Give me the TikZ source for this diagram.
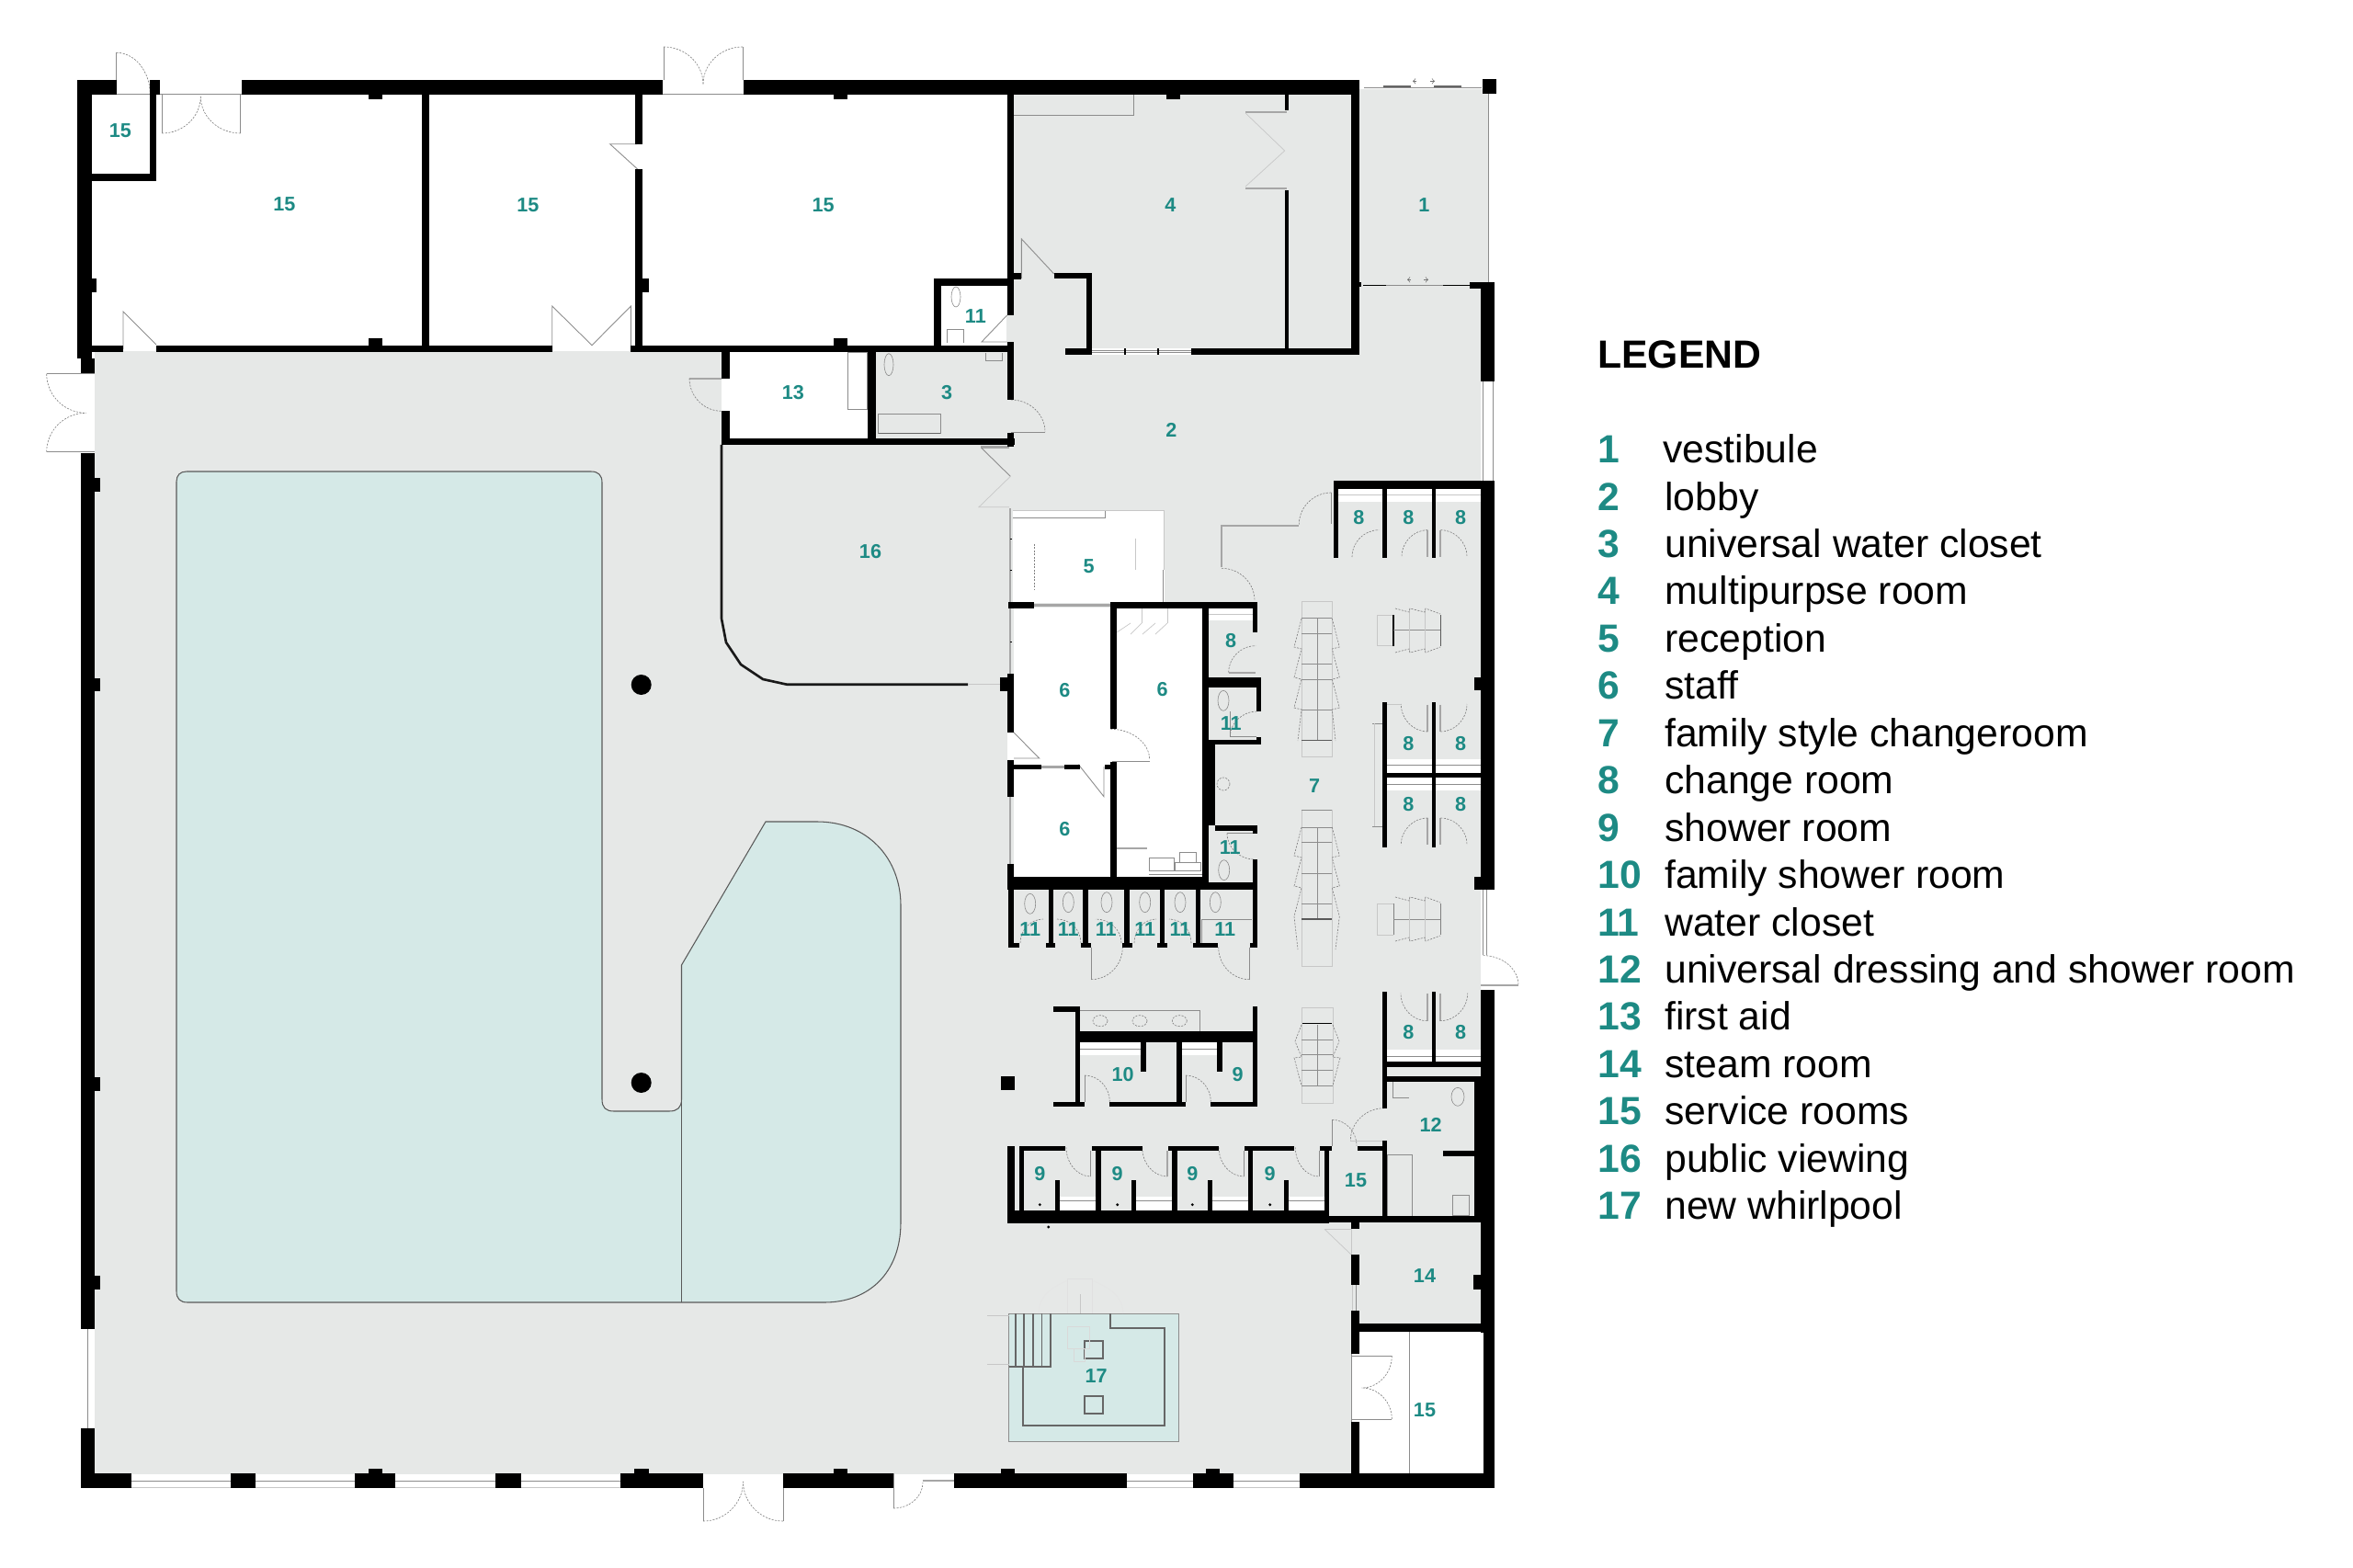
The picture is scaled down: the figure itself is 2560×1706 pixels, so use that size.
\documentclass[tikz,border=0pt]{standalone}
\usepackage{fontspec}
\setmainfont{Liberation Sans}
\usetikzlibrary{calc}
\definecolor{floorgray}{HTML}{E6E8E7}
\definecolor{poolteal}{HTML}{D5E9E7}
\definecolor{labelteal}{HTML}{1D8A84}
\tikzset{
    wall/.style={fill=black},
    floor/.style={fill=floorgray},
    room/.style={fill=white},
    leaf/.style={draw=black!45, line width=0.5pt},
    thickleaf/.style={draw=black!35, line width=1.2pt},
    swing/.style={draw=black!50, line width=0.35pt, dash pattern=on 1.2pt off 0.8pt},
    faint/.style={draw=black!22, line width=0.4pt},
    fixture/.style={draw=black!45, line width=0.35pt},
    roomlabel/.style={text=labelteal, font=\fontsize{12.3}{14}\selectfont\bfseries, inner sep=0pt},
    legendnum/.style={anchor=base west, text=labelteal, font=\fontsize{24.3}{28}\selectfont\bfseries, inner sep=0pt},
    legendtext/.style={anchor=base west, text=black, font=\fontsize{24.3}{28}\selectfont, inner sep=0pt},
    legendtitle/.style={anchor=base west, text=black, font=\fontsize{24.3}{28}\selectfont\bfseries, inner sep=0pt}
}
\newcommand{\doorarc}[3]{\draw[swing] (#1) .. controls ($(#1)!0.55!(#2)$) and ($(#3)!0.55!(#2)$) .. (#3);}

\begin{document}
\begin{tikzpicture}[x=0.02cm, y=-0.02cm]
    \useasboundingbox (0,0) rectangle (2560,1706);

    \fill[floor] (103.3,382) rectangle (1475,1604);
    \fill[floor] (1095,102) rectangle (1611,1331);
    \fill[floor] (1479,97) rectangle (1619,312);
    \fill[floor] (1470,1330) rectangle (1611,1445);

    \fill[room] (793.6,382) rectangle (944.3,477);
    \fill[room] (785,411.7) rectangle (794,447.3);
    \fill[room] (1101.7,555) rectangle (1266.7,656);
    \fill[room] (1102.7,661) rectangle (1308,955);
    \fill[room] (1096,796.7) rectangle (1103,826.7);
    \fill[room] (1479,1449) rectangle (1615,1604);
    \fill[room] (1470,1473.3) rectangle (1480,1546.7);

    \filldraw[fill=poolteal, draw=black!65, line width=0.6pt] (192,524) .. controls (192,517) and (196,513) .. (203,513) -- (643,513) .. controls (651,513) and (655,517) .. (655,525) -- (655,1196) .. controls (655,1205) and (659,1209) .. (668,1209) -- (728,1209) .. controls (737,1209) and (741.5,1205) .. (741.5,1196) -- (741.5,1050) -- (833,894) -- (889,894) .. controls (945,894) and (980,935) .. (980,985) -- (980,1330) .. controls (980,1385) and (945,1417) .. (897,1417) -- (204,1417) .. controls (196,1417) and (192,1413) .. (192,1405) -- cycle;
    \draw[draw=black!65, line width=0.5pt] (741.5,1196) -- (741.5,1417);

    \fill (697.7,745) circle (11);
    \fill (697.7,1178) circle (11);
    \fill (1088.5,1170.6) rectangle (1103.5,1186);

    \draw[black!90, line width=1.5pt] (785,484) -- (785,673) -- (790,699) -- (806,723) -- (830,739) -- (856,744.7) -- (1053,744.7);
    \draw[faint] (1053,744.7) -- (1088,744.7);

    \filldraw[fill=poolteal, draw=black!45, line width=0.4pt] (1097.6,1429.3) rectangle (1282.7,1568);
    \draw[black!60, line width=1.2pt] (1113,1486.7) -- (1113,1551) -- (1267,1551) -- (1267,1445.3) -- (1208.3,1445.3) -- (1208.3,1429.3);
    \draw[black!60, line width=1.1pt] (1097.6,1486.7) -- (1142.7,1486.7) -- (1142.7,1429.3);
    \draw[black!60, line width=0.8pt] (1105,1429.3) -- (1105,1486.7);
    \draw[black!60, line width=0.8pt] (1114,1429.3) -- (1114,1486.7);
    \draw[black!60, line width=0.8pt] (1124,1429.3) -- (1124,1486.7);
    \draw[black!60, line width=0.8pt] (1133.5,1429.3) -- (1133.5,1486.7);
    \draw[black!60, line width=1.1pt] (1180.3,1459) rectangle (1199.7,1477.7);
    \draw[black!60, line width=1.1pt] (1180.3,1519.3) rectangle (1199.7,1538);
    \draw[draw=black!12, line width=0.35pt] (1161.7,1429) -- (1161.7,1391.7) -- (1188.3,1391.7) -- (1188.3,1429);
    \draw[draw=black!15, line width=0.35pt] (1161.7,1443) rectangle (1185,1467);
    \draw[draw=black!15, line width=0.35pt] (1168,1467) rectangle (1180,1481);
    \draw[faint] (1074,1431) -- (1097.6,1431);
    \draw[faint] (1074,1484.7) -- (1097.6,1484.7);
    \draw[draw=black!10, line width=0.3pt] (1130,1429) .. controls (1130,1410) and (1145,1400) .. (1160,1394);
    \draw[draw=black!10, line width=0.3pt] (1222,1429) .. controls (1222,1410) and (1205,1400) .. (1190,1394);
    \draw[faint] (1175,1429) -- (1175,1408);

    \fill[room] (1456,531.7) rectangle (1504.3,546);
    \fill[room] (1509,531.7) rectangle (1557.7,546);
    \fill[room] (1562.3,531.7) rectangle (1611,546);
    \draw[faint] (1456,538) -- (1611,538);
    \fill[room] (1315,662) rectangle (1362.7,675);
    \draw[faint] (1315,668) -- (1362.7,668);
    \fill[room] (1509.3,826) rectangle (1611,840.7);
    \fill[room] (1509.3,846) rectangle (1611,860);
    \draw[fixture] (1509.3,832) -- (1611,832);
    \draw[fixture] (1509.3,853) -- (1611,853);
    \fill[room] (1509.3,1141.7) rectangle (1611,1155);
    \draw[fixture] (1509.3,1149) -- (1611,1149);
    \fill[room] (1153.3,1301.7) rectangle (1192.3,1316.7);
    \fill[room] (1236.3,1301.7) rectangle (1275.3,1316.7);
    \fill[room] (1319,1301.7) rectangle (1358,1316.7);
    \fill[room] (1402,1301.7) rectangle (1440.7,1316.7);
    \draw[fixture] (1153.3,1306) -- (1192.3,1306);
    \draw[fixture] (1236.3,1306) -- (1275.3,1306);
    \draw[fixture] (1319,1306) -- (1358,1306);
    \draw[fixture] (1402,1306) -- (1440.7,1306);
    \fill[room] (1175.3,1134) rectangle (1241,1148.3);
    \fill[room] (1285.7,1134) rectangle (1324,1148.3);
    \draw[fixture] (1175.3,1141) -- (1241,1141);
    \draw[fixture] (1285.7,1141) -- (1324,1141);

    \fill[room] (1188,379.3) rectangle (1295.7,385.7);
    \draw[fixture] (1188,381.3) -- (1295.7,381.3);
    \draw[fixture] (1188,383.7) -- (1295.7,383.7);
    \draw[fixture] (1102.7,125) -- (1233.3,125) -- (1233.3,102.7);
    \draw[fixture] (1509.3,1323) -- (1509.3,1256.7) -- (1536.7,1256.7) -- (1536.7,1323);
    \draw[fixture] (1533.3,1449) -- (1533.3,1603);
    \draw[fixture] (1175,1099.3) -- (1305.3,1099.3) -- (1305.3,1121.7);
    \draw[swing] (1197,1110.7) ellipse (8 and 6);
    \draw[swing] (1240,1110.7) ellipse (8 and 6);
    \draw[swing] (1283.3,1110.7) ellipse (8 and 6);

    \draw[fixture] (922,383) rectangle (943.7,445);
    \draw[fixture] (955.7,471.7) -- (955.7,450.7) -- (1022.9,450.7) -- (1022.9,471.7);
    \draw[black!60, line width=0.8pt] (955.7,471.7) -- (1022.9,471.7);
    \draw[fixture] (967,396.7) ellipse (5 and 12);
    \draw[fixture] (1040,323) ellipse (5 and 11);
    \draw[fixture] (1030,373) -- (1030,358) -- (1048,358) -- (1048,373);
    \draw[fixture] (1072,384) -- (1072,392) -- (1090,392) -- (1090,384);
    \draw[fixture] (1586,1193.3) ellipse (7 and 10);
    \draw[fixture] (1515,1177) -- (1515,1194) -- (1533,1194);
    \draw[fixture] (1580,1300) rectangle (1598,1322);
    \draw[fixture] (1331,762.3) ellipse (6 and 11);
    \draw[fixture] (1331.7,946.7) ellipse (6 and 11);
    \draw[fixture] (1120.7,983.3) ellipse (6 and 11);
    \draw[fixture] (1162.3,981.7) ellipse (6 and 11);
    \draw[fixture] (1204,981.7) ellipse (6 and 11);
    \draw[fixture] (1245.7,981.7) ellipse (6 and 11);
    \draw[fixture] (1284,981.7) ellipse (6 and 11);
    \draw[fixture] (1322.3,981.7) ellipse (6 and 11);
    \draw[swing] (1331,853) circle (7);

    \draw[thickleaf] (1099,553) -- (1099,733);
    \draw[thickleaf] (1099,867) -- (1099,940);
    \draw[black, line width=0.5pt] (1099,586) -- (1101,586);
    \draw[black, line width=0.5pt] (1099,620) -- (1101,620);
    \draw[black, line width=0.5pt] (1099,698) -- (1101,698);
    \draw[fixture] (1101.7,563.3) -- (1202.7,563.3) -- (1202.7,555);
    \draw[faint] (1235.7,585.7) -- (1235.7,620);
    \draw[swing] (1125,591.7) -- (1125,641.7);
    \draw[fixture] (1265.7,620) -- (1265.7,655);
    \draw[fixture] (1125,657.7) -- (1208,657.7);
    \draw[faint] (1101.7,555) -- (1266.7,555) -- (1266.7,620);
    \draw[fixture] (1250,933.3) rectangle (1277.3,947.7);
    \draw[fixture] (1278.3,938.3) rectangle (1306.7,947.7);
    \draw[fixture] (1283,938.3) -- (1283,927.3) -- (1301,927.3) -- (1301,938.3);
    \draw[thickleaf] (1215,923.3) -- (1248.3,923.3);
    \draw[fixture] (1250,951) -- (1307.7,951);
    \draw[faint] (1242.3,662.3) -- (1242.3,678);
    \draw[faint] (1270,662.3) -- (1270,678);
    \draw[faint] (1215,688) -- (1230,678);
    \draw[faint] (1230,690) -- (1242,678);
    \draw[faint] (1243,690) -- (1257,678);
    \draw[faint] (1257,690) -- (1270,678);

    \draw[faint] (1416,654.3) rectangle (1449.3,823.3);
    \draw[fixture] (1433.3,672.7) -- (1433.3,806);
    \draw[fixture] (1416,672.7) -- (1449.3,672.7);
    \draw[fixture] (1416,689) -- (1449.3,689);
    \draw[fixture] (1416,722) -- (1449.3,722);
    \draw[fixture] (1416,739) -- (1449.3,739);
    \draw[fixture] (1416,772.3) -- (1449.3,772.3);
    \draw[black!65, line width=0.5pt] (1416,805.7) -- (1449.3,805.7);
    \draw[swing] (1416,673) -- (1408,704) -- (1416,706) -- (1408,737) -- (1416,739) -- (1408,770) -- (1416,772) -- (1412,806);
    \draw[swing] (1449.3,673) -- (1457.3,704) -- (1449.3,706) -- (1457.3,737) -- (1449.3,739) -- (1457.3,770) -- (1449.3,772) -- (1453,806);
    \draw[faint] (1416,881.7) rectangle (1449.3,1051.4);
    \draw[fixture] (1433.3,900) -- (1433.3,1000);
    \draw[fixture] (1416,881.7) -- (1449.3,881.7);
    \draw[fixture] (1416,900) -- (1449.3,900);
    \draw[fixture] (1416,916.7) -- (1449.3,916.7);
    \draw[fixture] (1416,950) -- (1449.3,950);
    \draw[fixture] (1416,983.3) -- (1449.3,983.3);
    \draw[black!65, line width=0.6pt] (1416,1000) -- (1449.3,1000);
    \draw[swing] (1416,900) -- (1408,931) -- (1416,933) -- (1408,964) -- (1416,966) -- (1408,997) -- (1412,1033);
    \draw[swing] (1449.3,900) -- (1457.3,931) -- (1449.3,933) -- (1457.3,964) -- (1449.3,966) -- (1457.3,997) -- (1453,1033);
    \draw[faint] (1416,1096.7) rectangle (1450,1200);
    \draw[black, line width=0.6pt] (1417,1113.3) -- (1449,1113.3);
    \draw[fixture] (1433.3,1115) -- (1433.3,1181);
    \draw[fixture] (1416,1131) -- (1450,1131);
    \draw[fixture] (1416,1147.7) -- (1450,1147.7);
    \draw[fixture] (1416,1164.3) -- (1450,1164.3);
    \draw[fixture] (1416,1181) -- (1450,1181);
    \draw[swing] (1416,1115) -- (1409,1133) -- (1416,1150) -- (1408,1151) -- (1416,1181);
    \draw[swing] (1450,1115) -- (1457,1133) -- (1450,1150) -- (1458,1151) -- (1450,1181);

    \draw[faint] (1516,669) -- (1498.3,669) -- (1498.3,702.7) -- (1516,702.7);
    \draw[black, line width=0.7pt] (1516,669) -- (1516,703);
    \draw[black!65, line width=0.7pt] (1567.3,669) -- (1567.3,703);
    \draw[fixture] (1516,685.7) -- (1567.3,685.7);
    \draw[faint] (1533,662) -- (1533,710);
    \draw[faint] (1550,662) -- (1550,710);
    \draw[swing] (1518,662) -- (1533,666) -- (1534,662) -- (1550,666) -- (1551,662) -- (1567,668);
    \draw[swing] (1518,710) -- (1533,706) -- (1534,710) -- (1550,706) -- (1551,710) -- (1567,704);
    \draw[faint] (1516,983) -- (1498.3,983) -- (1498.3,1017) -- (1516,1017);
    \draw[black!50, line width=0.5pt] (1516,983) -- (1516,1017);
    \draw[black!50, line width=0.5pt] (1567.3,983) -- (1567.3,1017);
    \draw[fixture] (1516,1000.7) -- (1567.3,1000.7);
    \draw[faint] (1533,976) -- (1533,1024);
    \draw[faint] (1550,976) -- (1550,1024);
    \draw[swing] (1518,976) -- (1533,980) -- (1534,976) -- (1550,980) -- (1551,976) -- (1567,982);
    \draw[swing] (1518,1024) -- (1533,1020) -- (1534,1024) -- (1550,1020) -- (1551,1024) -- (1567,1018);
    \draw[fixture] (1493.3,787.3) -- (1504.3,787.3);
    \draw[fixture] (1493.3,899.3) -- (1504.3,899.3);
    \draw[faint] (1495,787.3) -- (1495,899.3);

    \draw[leaf] (126.7,102.7) -- (126.7,57.3);
    \doorarc{126.7,57.3}{163.3,57.3}{163.3,102.7}
    \draw[leaf] (126.7,102.7) -- (163.3,102.7);
    \draw[leaf] (174.3,102.7) -- (263.3,102.7);
    \draw[leaf] (176.3,102.7) -- (176.3,145);
    \draw[leaf] (261.7,102.7) -- (261.7,145);
    \doorarc{176.3,145}{218.3,145}{218.3,105}
    \doorarc{261.7,145}{218.3,145}{218.3,105}
    \draw[leaf] (722,87.3) -- (722,51);
    \draw[leaf] (808,87.3) -- (808,51);
    \doorarc{722,51}{765,51}{765,91.7}
    \doorarc{808,51}{765,51}{765,91.7}
    \draw[leaf] (721,102.7) -- (809,102.7);
    \draw[leaf] (103,406.7) -- (50.7,406.7);
    \draw[leaf] (103,491.7) -- (50.7,491.7);
    \doorarc{50.7,406.7}{50.7,449.3}{93.6,449.3}
    \doorarc{50.7,491.7}{50.7,449.3}{93.6,449.3}
    \draw[leaf] (134,380) -- (134,339) -- (170,375);
    \draw[leaf] (600.7,382) -- (600.7,333) -- (644,375.7) -- (686.4,333) -- (686.4,382);
    \draw[leaf] (693,156.7) -- (663.6,156.7) -- (693.6,184);
    \draw[leaf] (1111.4,303) -- (1111.4,260) -- (1146.7,298);
    \draw[leaf] (1095.6,343) -- (1068,372) -- (1095.6,372);
    \draw[thickleaf] (750,411.7) -- (785,411.7);
    \doorarc{750,411.7}{750,447.3}{785,447.3}
    \doorarc{1100,435}{1137,435}{1137,470}
    \draw[leaf] (1137,470) -- (1100,470);
    \draw[thickleaf] (1067,486.5) -- (1098,486.5);
    \draw[leaf] (1067.7,487.3) -- (1099.3,518.3);
    \draw[faint] (1099.3,518.3) -- (1065,551.7) -- (1098,551.7);
    \draw[thickleaf] (1355,121.7) -- (1400,121.7);
    \draw[thickleaf] (1355,205.3) -- (1400,205.3);
    \draw[faint] (1355,123) -- (1397.7,164) -- (1355,203);
    \draw[leaf] (1484,95) -- (1612,95);
    \draw[black!60, line width=0.8pt] (1505,94) -- (1535,94);
    \draw[black!60, line width=0.8pt] (1560,94) -- (1590,94);
    \draw[black!55, line width=0.4pt, ->] (1541,88.3) -- (1537,88.3);
    \draw[black!55, line width=0.4pt, ->] (1556,88.3) -- (1561,88.3);
    \draw[leaf] (1619,102.3) -- (1619,307.3);
    \draw[leaf] (1483,310.7) -- (1600,310.7);
    \draw[black, line width=0.7pt] (1483,310.7) -- (1508,310.7);
    \draw[black, line width=0.7pt] (1570,310.7) -- (1600,310.7);
    \draw[black!55, line width=0.4pt, ->] (1535,304.3) -- (1531,304.3);
    \draw[black!55, line width=0.4pt, ->] (1549,304.3) -- (1554,304.3);
    \draw[leaf] (1613.5,415) -- (1613.5,523);
    \draw[leaf] (1624,415) -- (1624,523);
    \draw[leaf] (1617.5,968) -- (1617.5,1039);
    \draw[leaf] (1613.5,968) -- (1613.5,1039);
    \doorarc{1613.5,1039.6}{1652,1039.6}{1652,1072}
    \draw[thickleaf] (1611,1072) -- (1652,1072);

    \doorarc{1448.3,536}{1413.3,536}{1413.3,570.7}
    \draw[thickleaf] (1328.3,571.7) -- (1413.3,571.7);
    \draw[thickleaf] (1329,571.7) -- (1329,616.7);
    \doorarc{1329,618.3}{1365,618.3}{1365,653.3}
    \draw[fixture] (1448,536) -- (1448,570);
    \doorarc{1471,606}{1471,576.7}{1500,576.7}
    \draw[thickleaf] (1553.3,576.7) -- (1553.3,606);
    \doorarc{1553.3,576.7}{1525,576.7}{1525,606}
    \draw[thickleaf] (1567.3,576.7) -- (1567.3,606);
    \doorarc{1567.3,576.7}{1596,576.7}{1596,606}
    \draw[thickleaf] (1553.3,766.7) -- (1553.3,796);
    \doorarc{1553.3,796}{1524.3,796}{1524.3,766}
    \draw[faint] (1509,766) -- (1524.3,766);
    \draw[thickleaf] (1567.3,766.7) -- (1567.3,796);
    \doorarc{1567.3,796}{1596,796}{1596,766}
    \draw[thickleaf] (1553.3,890) -- (1553.3,919.3);
    \doorarc{1553.3,890}{1524.3,890}{1524.3,919.3}
    \draw[thickleaf] (1567.3,890) -- (1567.3,919.3);
    \doorarc{1567.3,890}{1596,890}{1596,919.3}
    \draw[thickleaf] (1552.7,1080.7) -- (1552.7,1110.7);
    \doorarc{1552.7,1110.7}{1524,1110.7}{1524,1080.7}
    \draw[thickleaf] (1566.7,1080.7) -- (1566.7,1110.7);
    \doorarc{1566.7,1110.7}{1596.7,1110.7}{1596.7,1080.7}
    \draw[thickleaf] (1336.7,731.7) -- (1366,731.7);
    \doorarc{1336.7,731.7}{1336.7,702.7}{1366,702.7}
    \draw[leaf] (1338.3,774) -- (1338.3,801.7) -- (1367,801.7);
    \doorarc{1338.3,801.7}{1338.3,774}{1368,774}
    \doorarc{1335,906.7}{1335,935}{1365,935}
    \draw[leaf] (1335,906.7) -- (1363,906.7);
    \doorarc{1208.3,793.3}{1250.7,793.3}{1250.7,826.7}
    \draw[fixture] (1210,828) -- (1250.7,828);
    \draw[leaf] (1173.3,831.7) -- (1201,866.7) -- (1201,834);
    \draw[leaf] (1102.7,796.7) -- (1130.7,825) -- (1103,825);
    \draw[thickleaf] (1132.7,834.5) -- (1158.3,834.5);
    \draw[thickleaf] (1125,658.5) -- (1208,658.5);
    \draw[leaf] (1187.3,1030.7) -- (1187.3,1065.7);
    \doorarc{1187.3,1065.7}{1221.3,1065.7}{1221.3,1030.7}
    \draw[leaf] (1359.3,1030.7) -- (1359.3,1065.7);
    \doorarc{1359.3,1065.7}{1325.7,1065.7}{1325.7,1030.7}
    \doorarc{1110,1026}{1110,1000}{1135,1000}
    \doorarc{1176,1026}{1176,1000}{1150,1000}
    \doorarc{1220,1026}{1220,1000}{1192,1000}
    \doorarc{1234,1026}{1234,1000}{1258,1000}
    \doorarc{1296,1026}{1296,1000}{1272,1000}
    \draw[fixture] (1307,1000) -- (1307,1026);
    \draw[fixture] (1307,1000) -- (1362,1000);
    \draw[faint] (1470,1336.7) -- (1470,1365);
    \draw[faint] (1441,1337.3) -- (1470,1365);
    \draw[faint] (1441,1337.3) -- (1470,1337.3);
    \draw[faint] (1471,1398) -- (1471,1426);
    \draw[leaf] (1475,1398) -- (1475,1426);
    \draw[leaf] (1471,1475) -- (1514.3,1475);
    \draw[leaf] (1471,1544) -- (1514.3,1544);
    \draw[leaf] (1470.5,1473.3) -- (1470.5,1546.7);
    \doorarc{1514.3,1475}{1514.3,1510}{1481.7,1510}
    \doorarc{1514.3,1544}{1514.3,1510}{1481.7,1510}
    \draw[leaf] (1186.7,1252.3) -- (1186.7,1280);
    \doorarc{1160,1248.3}{1160,1280}{1186.7,1280}
    \draw[thickleaf] (1270,1252.3) -- (1270,1280);
    \doorarc{1242.7,1248.3}{1242.7,1280}{1270,1280}
    \draw[leaf] (1353.3,1252.3) -- (1353.3,1280);
    \doorarc{1326,1248.3}{1326,1280}{1353.3,1280}
    \draw[leaf] (1435,1252.3) -- (1435,1280);
    \doorarc{1409.3,1248.3}{1409.3,1280}{1435,1280}
    \draw[leaf] (1180,1199) -- (1180,1170);
    \doorarc{1180,1170}{1207.3,1170}{1207.3,1198.7}
    \draw[leaf] (1290,1199) -- (1290,1170);
    \doorarc{1290,1170}{1317.3,1170}{1317.3,1198.7}
    \doorarc{1506,1205.7}{1469.3,1205.7}{1469.3,1241}
    \draw[faint] (1469.3,1241) -- (1506,1241);
    \draw[leaf] (1449.3,1246.7) -- (1449.3,1218.3);
    \doorarc{1449.3,1218.3}{1476,1218.3}{1476,1246.7}

    \draw[leaf] (142.9,1611) -- (250.7,1611);
    \draw[leaf] (277.9,1611) -- (385.7,1611);
    \draw[leaf] (430,1611) -- (538.6,1611);
    \draw[leaf] (567.1,1611) -- (675,1611);
    \draw[leaf] (1226,1611) -- (1298,1611);
    \draw[leaf] (1341.7,1611) -- (1413.7,1611);
    \draw[faint] (142.9,1618.5) -- (675,1618.5);
    \draw[faint] (1226,1618.5) -- (1413.7,1618.5);
    \draw[leaf] (95,1446) -- (95,1554);
    \draw[leaf] (765,1619) -- (765,1655);
    \draw[leaf] (852,1619) -- (852,1655);
    \doorarc{765,1655}{808.5,1655}{808.5,1612}
    \doorarc{852,1655}{808.5,1655}{808.5,1612}
    \draw[leaf] (972,1619) -- (972,1641);
    \doorarc{972,1641}{1004,1641}{1004,1613}
    \draw[thickleaf] (1004,1611) -- (1037.8,1611);
    \draw[fixture] (972,1603) -- (972,1619);

    \fill[wall] (84.3,87.3) rectangle (126.7,102.7);
    \fill[wall] (163.3,87.3) rectangle (174.3,102.7);
    \fill[wall] (263.3,87.3) rectangle (721,102.7);
    \fill[wall] (809,87.3) rectangle (1479,102.7);
    \fill[wall] (84.3,87.3) rectangle (99.7,390);
    \fill[wall] (88,390) rectangle (103.3,406);
    \fill[wall] (88,493.3) rectangle (103,1446);
    \fill[wall] (88,1554) rectangle (103,1619);
    \fill[wall] (103,520) rectangle (109,535);
    \fill[wall] (103,738) rectangle (109,752);
    \fill[wall] (103,1172) rectangle (109,1187);
    \fill[wall] (103,1388) rectangle (109,1403);

    \fill[wall] (88,1603.3) rectangle (142.9,1619);
    \fill[wall] (250.7,1603.3) rectangle (277.9,1619);
    \fill[wall] (385.7,1603.3) rectangle (430,1619);
    \fill[wall] (400.7,1597.7) rectangle (415.7,1604);
    \fill[wall] (538.6,1603.3) rectangle (567.1,1619);
    \fill[wall] (675,1603.3) rectangle (765,1619);
    \fill[wall] (690,1597.7) rectangle (705.7,1604);
    \fill[wall] (852,1603.3) rectangle (972,1619);
    \fill[wall] (907,1597.7) rectangle (922,1604);
    \fill[wall] (1037.8,1603.3) rectangle (1226,1619);
    \fill[wall] (1088.6,1597.7) rectangle (1104,1604);
    \fill[wall] (1298,1603.3) rectangle (1341.7,1619);
    \fill[wall] (1312.3,1597.7) rectangle (1327.3,1604);
    \fill[wall] (1413.7,1603.3) rectangle (1626.3,1618.5);

    \fill[wall] (163.3,102.7) rectangle (170.3,196.7);
    \fill[wall] (99.7,189.3) rectangle (170.3,196.7);
    \fill[wall] (459,102.7) rectangle (466.7,375.7);
    \fill[wall] (691.4,102.7) rectangle (698.6,156.7);
    \fill[wall] (691.4,184) rectangle (698.6,375.7);
    \fill[wall] (99.7,375.7) rectangle (134,382.7);
    \fill[wall] (170,375.7) rectangle (600.7,382.7);
    \fill[wall] (686.4,375.7) rectangle (1102.7,382.7);
    \fill[wall] (401,102.7) rectangle (416,108.3);
    \fill[wall] (401,368.3) rectangle (416,375.7);
    \fill[wall] (907,102.7) rectangle (922,108.3);
    \fill[wall] (907,368.3) rectangle (922,375.7);
    \fill[wall] (99.7,303.3) rectangle (105.3,317.7);
    \fill[wall] (698.6,303.3) rectangle (705.7,318.3);
    \fill[wall] (1015.7,303.3) rectangle (1024.3,375.7);
    \fill[wall] (1015.7,303.3) rectangle (1096,310.7);
    \fill[wall] (785,382) rectangle (793.6,411.7);
    \fill[wall] (785,447.3) rectangle (793.6,484);
    \fill[wall] (944.3,382) rectangle (952.9,477);
    \fill[wall] (785,476.7) rectangle (1104,484.3);

    \fill[wall] (1095.6,102.7) rectangle (1102.7,343);
    \fill[wall] (1095.6,372.5) rectangle (1102.7,435);
    \fill[wall] (1095.6,470.7) rectangle (1102.7,486);
    \fill[wall] (1102.7,296.7) rectangle (1111.4,303.6);
    \fill[wall] (1146.7,296.7) rectangle (1188,303.3);
    \fill[wall] (1181.7,296.7) rectangle (1188.3,379.3);
    \fill[wall] (1158.7,379.3) rectangle (1188,385.7);
    \fill[wall] (1223,379.3) rectangle (1224.5,385.7);
    \fill[wall] (1259.3,379.3) rectangle (1260.8,385.7);
    \fill[wall] (1295.7,379.3) rectangle (1479,385.7);
    \fill[wall] (1469.7,102.7) rectangle (1479,385.7);
    \fill[wall] (1397.7,102.7) rectangle (1402.3,120);
    \fill[wall] (1397.7,206.7) rectangle (1402.3,379.3);
    \fill[wall] (1269.3,102.7) rectangle (1284,108.3);
    \fill[wall] (1612.7,85.7) rectangle (1628,102.3);
    \fill[wall] (1611,307.3) rectangle (1626.3,415);
    \fill[wall] (1599,307.3) rectangle (1611,314.3);
    \fill[wall] (1479,307.5) rectangle (1481,312.5);

    \fill[wall] (1450.7,523.3) rectangle (1626.3,531.7);
    \fill[wall] (1611,523.3) rectangle (1626.3,968);
    \fill[wall] (1603.7,737) rectangle (1611,751.4);
    \fill[wall] (1603.7,954) rectangle (1611,968);
    \fill[wall] (1451,531) rectangle (1456,607.3);
    \fill[wall] (1504.3,531) rectangle (1509,607.3);
    \fill[wall] (1557.7,531) rectangle (1562.3,607.3);
    \fill[wall] (1504.3,764.3) rectangle (1509,921.7);
    \fill[wall] (1557.7,764.3) rectangle (1562.3,921.7);
    \fill[wall] (1504.3,840.7) rectangle (1611,846);
    \fill[wall] (1504.3,1079) rectangle (1509.3,1205.7);
    \fill[wall] (1557.7,1079) rectangle (1562.3,1155);
    \fill[wall] (1504.3,1155) rectangle (1611,1160.7);
    \fill[wall] (1504.3,1171) rectangle (1611,1176.7);
    \fill[wall] (1504.3,1241) rectangle (1509.3,1323);
    \fill[wall] (1570,1252.3) rectangle (1603.7,1258.3);
    \fill[wall] (1611,1076.7) rectangle (1626.3,1450);
    \fill[wall] (1614.3,1450) rectangle (1626.3,1618);
    \fill[wall] (1603.7,1176.7) rectangle (1611,1330);
    \fill[wall] (1603.3,1386.7) rectangle (1610.5,1403.3);

    \fill[wall] (1096.7,655) rectangle (1125,661.7);
    \fill[wall] (1208.3,655) rectangle (1367.7,662.3);
    \fill[wall] (1096,733) rectangle (1102.7,796.7);
    \fill[wall] (1088,736.7) rectangle (1096,751.7);
    \fill[wall] (1096,826.7) rectangle (1102.7,866.7);
    \fill[wall] (1096,940) rectangle (1102.7,967);
    \fill[wall] (1096,954.3) rectangle (1315,965);
    \fill[wall] (1096,960) rectangle (1367.7,967.7);
    \fill[wall] (1102.7,831.7) rectangle (1132.7,837.3);
    \fill[wall] (1158.3,831.7) rectangle (1175,837.3);
    \fill[wall] (1201.7,831.7) rectangle (1208.3,837.3);
    \fill[wall] (1208.3,662) rectangle (1215,793.3);
    \fill[wall] (1208.3,829.3) rectangle (1215,954.3);
    \fill[wall] (1307.7,662) rectangle (1315,810);
    \fill[wall] (1307.7,810) rectangle (1321.7,898.3);
    \fill[wall] (1307.7,898.3) rectangle (1315,960);
    \fill[wall] (1362.7,662) rectangle (1367.7,688.3);
    \fill[wall] (1315,736.7) rectangle (1371.7,748.3);
    \fill[wall] (1366.7,748.3) rectangle (1371.7,774);
    \fill[wall] (1315,805) rectangle (1371.7,810);
    \fill[wall] (1366.7,802) rectangle (1371.7,810);
    \fill[wall] (1321.7,898.3) rectangle (1368.3,904);
    \fill[wall] (1363.3,898.3) rectangle (1368.3,906.7);
    \fill[wall] (1363.3,935) rectangle (1368.3,960);

    \fill[wall] (1096.7,967) rectangle (1102.7,1030.7);
    \fill[wall] (1140.7,967) rectangle (1145.7,1026);
    \fill[wall] (1178.3,967) rectangle (1184,1026);
    \fill[wall] (1223.3,967) rectangle (1229,1026);
    \fill[wall] (1262.3,967) rectangle (1267.3,1026);
    \fill[wall] (1300.7,967) rectangle (1306,1026);
    \fill[wall] (1362.7,967) rectangle (1367.7,1030.7);
    \fill[wall] (1096.7,1025.7) rectangle (1109.3,1030.7);
    \fill[wall] (1137.7,1025.7) rectangle (1148.3,1030.7);
    \fill[wall] (1176,1025.7) rectangle (1186.7,1030.7);
    \fill[wall] (1221,1025.7) rectangle (1231.7,1030.7);
    \fill[wall] (1259.3,1025.7) rectangle (1270,1030.7);
    \fill[wall] (1298.3,1025.7) rectangle (1325,1030.7);
    \fill[wall] (1360,1025.7) rectangle (1367.7,1030.7);

    \fill[wall] (1146,1095.3) rectangle (1175,1101);
    \fill[wall] (1170,1095.3) rectangle (1175.3,1204);
    \fill[wall] (1170,1121.7) rectangle (1368.3,1134);
    \fill[wall] (1362.7,1095) rectangle (1368.3,1204);
    \fill[wall] (1146,1198.7) rectangle (1180,1204);
    \fill[wall] (1207.3,1198.7) rectangle (1290,1204);
    \fill[wall] (1317.3,1198.7) rectangle (1368.3,1204);
    \fill[wall] (1280,1134) rectangle (1285.7,1198.7);
    \fill[wall] (1241,1134) rectangle (1246.7,1166);
    \fill[wall] (1324,1134) rectangle (1329.7,1166);

    \fill[wall] (1109,1246.7) rectangle (1159.3,1252.3);
    \fill[wall] (1188.3,1246.7) rectangle (1242.7,1252.3);
    \fill[wall] (1271,1246.7) rectangle (1326,1252.3);
    \fill[wall] (1354,1246.7) rectangle (1408.3,1252.3);
    \fill[wall] (1436,1246.7) rectangle (1449.3,1252.3);
    \fill[wall] (1476.7,1246.7) rectangle (1509.3,1252.3);
    \fill[wall] (1095.6,1246.7) rectangle (1103.5,1330.7);
    \fill[wall] (1109,1246.7) rectangle (1113.8,1317);
    \fill[wall] (1095.6,1316.7) rectangle (1446,1330.7);
    \fill[wall] (1446,1322.7) rectangle (1611,1330);
    \fill[wall] (1192.3,1246.7) rectangle (1197.7,1317);
    \fill[wall] (1275.3,1246.7) rectangle (1280.7,1317);
    \fill[wall] (1358,1246.7) rectangle (1363.3,1317);
    \fill[wall] (1440.7,1252.3) rectangle (1446,1323);
    \fill[wall] (1147.7,1284.3) rectangle (1153.3,1317);
    \fill[wall] (1231,1284.3) rectangle (1236.3,1317);
    \fill[wall] (1313.7,1284.3) rectangle (1319,1317);
    \fill[wall] (1396.7,1284.3) rectangle (1402,1317);
    \fill (1131.3,1310.7) circle (1.6);
    \fill (1215.7,1310.7) circle (1.6);
    \fill (1297.3,1310.7) circle (1.6);
    \fill (1381.7,1310.7) circle (1.6);
    \fill (1140.7,1335) circle (1.6);

    \fill[wall] (1470,1330) rectangle (1479,1336.7);
    \fill[wall] (1470,1365) rectangle (1479,1398.3);
    \fill[wall] (1470,1426) rectangle (1479,1473.3);
    \fill[wall] (1470,1546.7) rectangle (1479,1604);
    \fill[wall] (1470,1440) rectangle (1614.3,1449.3);

    \node[roomlabel] (r1) at (1549.3,222.7) {1};
    \node[roomlabel] (r2) at (1274.3,468.3) {2};
    \node[roomlabel] (r3) at (1030,426.7) {3};
    \node[roomlabel] (r4) at (1273.3,222.7) {4};
    \node[roomlabel] (r5) at (1184.7,616) {5};
    \node[roomlabel] (r6a) at (1158.3,751) {6};
    \node[roomlabel] (r6b) at (1264.7,750) {6};
    \node[roomlabel] (r6c) at (1158.3,902.3) {6};
    \node[roomlabel] (r7) at (1430,855) {7};
    \node[roomlabel] (r8a) at (1478.3,562.7) {8};
    \node[roomlabel] (r8b) at (1532.3,562.7) {8};
    \node[roomlabel] (r8c) at (1589,562.7) {8};
    \node[roomlabel] (r8d) at (1339,696.7) {8};
    \node[roomlabel] (r8e) at (1532.3,809.3) {8};
    \node[roomlabel] (r8f) at (1589,809.3) {8};
    \node[roomlabel] (r8g) at (1532.3,875) {8};
    \node[roomlabel] (r8h) at (1589,875) {8};
    \node[roomlabel] (r8i) at (1532.3,1123.3) {8};
    \node[roomlabel] (r8j) at (1589,1123.3) {8};
    \node[roomlabel] (r9a) at (1131.3,1276.7) {9};
    \node[roomlabel] (r9b) at (1215.7,1276.7) {9};
    \node[roomlabel] (r9c) at (1297.3,1276.7) {9};
    \node[roomlabel] (r9d) at (1381.7,1276.7) {9};
    \node[roomlabel] (r9e) at (1346.7,1168.7) {9};
    \node[roomlabel] (r10) at (1221.7,1168.7) {10};
    \node[roomlabel] (r11a) at (1061.4,344) {11};
    \node[roomlabel] (r11b) at (1339.3,786.7) {11};
    \node[roomlabel] (r11c) at (1338.3,922.3) {11};
    \node[roomlabel] (r11d) at (1120.7,1011) {11};
    \node[roomlabel] (r11e) at (1162.3,1011) {11};
    \node[roomlabel] (r11f) at (1203.3,1011) {11};
    \node[roomlabel] (r11g) at (1245.7,1011) {11};
    \node[roomlabel] (r11h) at (1284,1011) {11};
    \node[roomlabel] (r11i) at (1332.7,1011) {11};
    \node[roomlabel] (r12) at (1556.7,1224.3) {12};
    \node[roomlabel] (r13) at (862.9,427.3) {13};
    \node[roomlabel] (r14) at (1550,1388.3) {14};
    \node[roomlabel] (r15a) at (131,141.7) {15};
    \node[roomlabel] (r15b) at (309.3,222.3) {15};
    \node[roomlabel] (r15c) at (574.3,222.7) {15};
    \node[roomlabel] (r15d) at (895.7,222.7) {15};
    \node[roomlabel] (r15e) at (1475,1284.3) {15};
    \node[roomlabel] (r15f) at (1550,1534) {15};
    \node[roomlabel] (r16) at (947,600) {16};
    \node[roomlabel] (r17) at (1192.7,1496.7) {17};

    \node[legendtitle] (legend) at (1738,401) {LEGEND};
    \node[legendnum] (n1) at (1738,503.6) {1};
    \node[legendnum] (n2) at (1738,555) {2};
    \node[legendnum] (n3) at (1738,606.5) {3};
    \node[legendnum] (n4) at (1738,657.9) {4};
    \node[legendnum] (n5) at (1738,709.4) {5};
    \node[legendnum] (n6) at (1738,760.8) {6};
    \node[legendnum] (n7) at (1738,812.2) {7};
    \node[legendnum] (n8) at (1738,863.7) {8};
    \node[legendnum] (n9) at (1738,915.1) {9};
    \node[legendnum] (n10) at (1738,966.6) {10};
    \node[legendnum] (n11) at (1738,1018) {11};
    \node[legendnum] (n12) at (1738,1069.4) {12};
    \node[legendnum] (n13) at (1738,1120.9) {13};
    \node[legendnum] (n14) at (1738,1172.3) {14};
    \node[legendnum] (n15) at (1738,1223.7) {15};
    \node[legendnum] (n16) at (1738,1275.2) {16};
    \node[legendnum] (n17) at (1738,1326.6) {17};

    \node[legendtext] (t1) at (1809,503.6) {vestibule};
    \node[legendtext] (t2) at (1811,555) {lobby};
    \node[legendtext] (t3) at (1811,606.5) {universal water closet};
    \node[legendtext] (t4) at (1811,657.9) {multipurpse room};
    \node[legendtext] (t5) at (1811,709.4) {reception};
    \node[legendtext] (t6) at (1811,760.8) {staff};
    \node[legendtext] (t7) at (1811,812.2) {family style changeroom};
    \node[legendtext] (t8) at (1811,863.7) {change room};
    \node[legendtext] (t9) at (1811,915.1) {shower room};
    \node[legendtext] (t10) at (1811,966.6) {family shower room};
    \node[legendtext] (t11) at (1811,1018) {water closet};
    \node[legendtext] (t12) at (1811,1069.4) {universal dressing and shower room};
    \node[legendtext] (t13) at (1811,1120.9) {first aid};
    \node[legendtext] (t14) at (1811,1172.3) {steam room};
    \node[legendtext] (t15) at (1811,1223.7) {service rooms};
    \node[legendtext] (t16) at (1811,1275.2) {public viewing};
    \node[legendtext] (t17) at (1811,1326.6) {new whirlpool};
\end{tikzpicture}
\end{document}
